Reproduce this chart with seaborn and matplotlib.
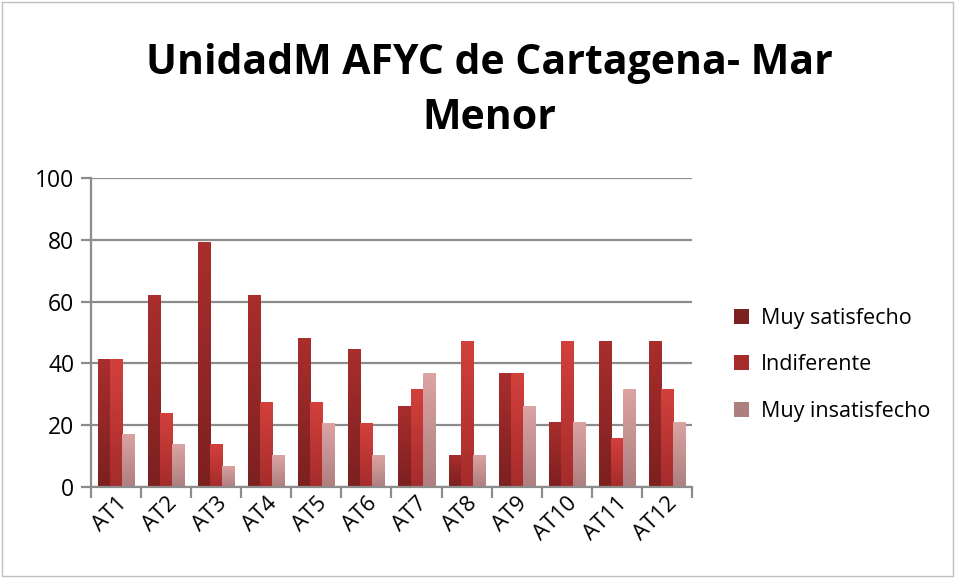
import numpy as np
import pandas as pd
import matplotlib
matplotlib.use("Agg")
import matplotlib.pyplot as plt
import seaborn as sns
from matplotlib.colors import LinearSegmentedColormap
from matplotlib.patches import Rectangle

categories = ["AT1", "AT2", "AT3", "AT4", "AT5", "AT6",
              "AT7", "AT8", "AT9", "AT10", "AT11", "AT12"]
muy_satisfecho = [41.4, 62.1, 79.3, 62.1, 48.3, 44.8, 26.3, 10.5, 36.8, 21.1, 47.4, 47.4]
indiferente = [41.4, 24.1, 13.8, 27.6, 27.6, 20.7, 31.6, 47.4, 36.8, 47.4, 15.8, 31.6]
muy_insatisfecho = [17.2, 13.8, 6.9, 10.3, 20.7, 10.3, 36.8, 10.5, 26.3, 21.1, 31.6, 21.1]
series = ["Muy satisfecho", "Indiferente", "Muy insatisfecho"]
title = "UnidadM AFYC de Cartagena- Mar\nMenor"

df = pd.DataFrame({
    "cat": categories * 3,
    "serie": [series[0]] * 12 + [series[1]] * 12 + [series[2]] * 12,
    "valor": muy_satisfecho + indiferente + muy_insatisfecho,
})

# top / bottom colours of each gradient
grads = {
    series[0]: ("#a92e2d", "#7c2020"),
    series[1]: ("#d3403c", "#a52c2b"),
    series[2]: ("#dca3a3", "#ae7f7f"),
}
palette = {k: v[0] for k, v in grads.items()}

sns.set_theme(style="white")
plt.rcParams["font.family"] = ["Open Sans", "DejaVu Sans"]
plt.rcParams["text.color"] = "black"
plt.rcParams["xtick.color"] = "black"
plt.rcParams["ytick.color"] = "black"

fig = plt.figure(figsize=(9.56, 5.78), dpi=100)
ax = fig.add_axes([0.0952, 0.1574, 0.6286, 0.5346])

sns.barplot(data=df, x="cat", y="valor", hue="serie", palette=palette,
            width=0.72, saturation=1, ax=ax, legend=True)

# gradient fill on each bar
for cont, name in zip(ax.containers, series):
    top, bot = grads[name]
    cmap = LinearSegmentedColormap.from_list(name, [bot, top])
    for p in cont.patches:
        x0, y0 = p.get_x(), p.get_y()
        w, h = p.get_width(), p.get_height()
        grad = np.linspace(0, 1, 64).reshape(-1, 1)
        im = ax.imshow(grad, cmap=cmap, origin="lower", aspect="auto",
                       extent=[x0, x0 + w, y0, y0 + h], zorder=p.get_zorder())
        im.set_clip_path(p)
        p.set_edgecolor("none")

ax.set_xlim(-0.5, len(categories) - 0.5)
ax.set_ylim(0, 100)
ax.set_yticks(range(0, 101, 20))
ax.set_xlabel("")
ax.set_ylabel("")
ax.yaxis.grid(True, color="#8c8c8c", linewidth=1.6)
ax.set_axisbelow(True)
for s in ["top", "right"]:
    ax.spines[s].set_visible(False)
for s in ["left", "bottom"]:
    ax.spines[s].set_color("#8c8c8c")
    ax.spines[s].set_linewidth(1.6)

# ticks between categories on x
ax.set_xticks(np.arange(-0.5, len(categories), 1), minor=True)
ax.tick_params(axis="x", which="minor", length=8, width=1.6, color="#8c8c8c", direction="out", bottom=True)
ax.tick_params(axis="x", which="major", length=0, labelsize=16, pad=4, labelcolor="black")
ax.tick_params(axis="y", length=7, width=1.6, color="#8c8c8c", direction="out", left=True,
               labelsize=16.5, pad=5, labelcolor="black")
plt.setp(ax.get_xticklabels(), rotation=45, ha="right", rotation_mode="anchor")

fig.text(0.5115, 0.843, title, fontsize=29.5, fontweight="bold", ha="center", va="center",
         linespacing=1.45, color="black")

handles, labels = ax.get_legend_handles_labels()
leg = ax.legend(handles, labels, loc="center left", bbox_to_anchor=(1.038, 0.395),
                frameon=False, fontsize=15.5, handlelength=0.7, handleheight=0.7,
                labelspacing=1.2, handletextpad=0.55)
for h, name in zip(leg.legend_handles, series):
    h.set_facecolor(grads[name][1])
    h.set_edgecolor("none")

fig.patches.append(Rectangle((0.002, 0.003), 0.995, 0.994, transform=fig.transFigure,
                             fill=False, edgecolor="#bfbfbf", linewidth=1))

fig.savefig("out.png", dpi=100)
